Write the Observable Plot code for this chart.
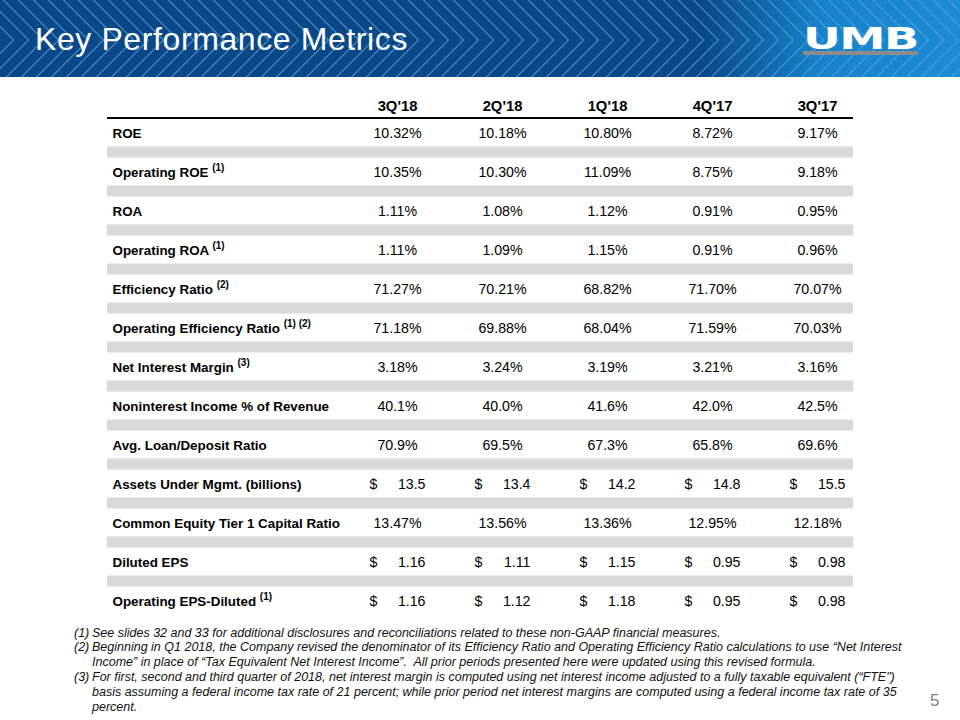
<!DOCTYPE html>
<html><head><meta charset="utf-8">
<script src="https://cdn.jsdelivr.net/npm/d3@7"></script>
<script src="https://cdn.jsdelivr.net/npm/@observablehq/plot@0.6"></script>
<style>
html,body{margin:0;padding:0;background:#fff;}
body{width:960px;height:720px;position:relative;overflow:hidden;font-family:"Liberation Sans",Arial,sans-serif;color:#000;}
#banner{position:absolute;left:0;top:0;width:960px;height:77px;background:#0b4887;overflow:hidden;}
#banner .glow{position:absolute;left:0;top:0;width:960px;height:77px;background:linear-gradient(to right, rgba(24,128,200,0) 0, rgba(24,128,200,0) 700px, rgba(24,134,206,0.95) 820px, rgba(28,140,210,1) 960px);}
#banner .top{position:absolute;left:0;top:0;width:960px;height:40px;background:repeating-linear-gradient(45deg, rgba(90,165,225,0) 0px, rgba(90,165,225,0) 9px, rgba(90,165,225,0.6) 9px, rgba(90,165,225,0.6) 10.6px);}
#banner .bot{position:absolute;left:0;top:40px;width:960px;height:37px;background:repeating-linear-gradient(135deg, rgba(90,165,225,0) 0px, rgba(90,165,225,0) 9px, rgba(90,165,225,0.6) 9px, rgba(90,165,225,0.6) 10.6px);}
#title{position:absolute;left:35px;top:22.9px;font-size:32px;line-height:32px;letter-spacing:0.6px;color:#fff;white-space:nowrap;}
#logo{position:absolute;left:803px;top:21px;width:115px;height:36px;}
#logo .txt{position:absolute;left:0;top:0;font-family:"DejaVu Sans",sans-serif;font-weight:bold;font-size:30px;line-height:35px;color:#fff;transform:scaleX(1.55);transform-origin:0 0;letter-spacing:-1px;white-space:nowrap;}
#logo .bar{position:absolute;left:0;top:30px;width:115px;height:4px;background:#8c8c8c;}
#chart{position:absolute;left:0;top:78px;}
#notes{position:absolute;left:74px;top:625.5px;font-size:12.5px;line-height:14.9px;font-style:italic;color:#111;white-space:nowrap;}
#notes .fn{display:flex;}
#notes .n{width:18px;flex:none;}
#pnum{position:absolute;left:930px;top:691px;font-size:17px;color:#808080;}
</style>
</head><body>
<div id="banner"><div class="glow"></div><div class="top"></div><div class="bot"></div>
<div id="title">Key Performance Metrics</div>
<div id="logo"><span class="txt">UMB</span><div class="bar"></div></div>
</div>
<div id="chart"></div>
<div id="notes">
<div class="fn"><span class="n">(1)</span><span class="t">See slides 32 and 33 for additional disclosures and reconciliations related to these non-GAAP financial measures.</span></div>
<div class="fn"><span class="n">(2)</span><span class="t">Beginning in Q1 2018, the Company revised the denominator of its Efficiency Ratio and Operating Efficiency Ratio calculations to use “Net Interest<br>Income” in place of “Tax Equivalent Net Interest Income”.&nbsp; All prior periods presented here were updated using this revised formula.</span></div>
<div class="fn"><span class="n">(3)</span><span class="t">For first, second and third quarter of 2018, net interest margin is computed using net interest income adjusted to a fully taxable equivalent (“FTE")<br>basis assuming a federal income tax rate of 21 percent; while prior period net interest margins are computed using a federal income tax rate of 35<br>percent.</span></div>
</div>
<div id="pnum">5</div>
<script>
const quarters = ["3Q'18", "2Q'18", "1Q'18", "4Q'17", "3Q'17"];
const metrics = [
  "ROE", "Operating ROE", "ROA", "Operating ROA", "Efficiency Ratio",
  "Operating Efficiency Ratio", "Net Interest Margin", "Noninterest Income % of Revenue",
  "Avg. Loan/Deposit Ratio", "Assets Under Mgmt. (billions)",
  "Common Equity Tier 1 Capital Ratio", "Diluted EPS", "Operating EPS-Diluted"
];
const footnoteRefs = ["", "(1)", "", "(1)", "(2)", "(1) (2)", "(3)", "", "", "", "", "", "(1)"];
const units = ["%", "%", "%", "%", "%", "%", "%", "%", "%", "$", "%", "$", "$"];
const decimals = [2, 2, 2, 2, 2, 2, 2, 1, 1, 1, 2, 2, 2];

const roe = [10.32, 10.18, 10.80, 8.72, 9.17];
const operatingRoe = [10.35, 10.30, 11.09, 8.75, 9.18];
const roa = [1.11, 1.08, 1.12, 0.91, 0.95];
const operatingRoa = [1.11, 1.09, 1.15, 0.91, 0.96];
const efficiencyRatio = [71.27, 70.21, 68.82, 71.70, 70.07];
const operatingEfficiencyRatio = [71.18, 69.88, 68.04, 71.59, 70.03];
const netInterestMargin = [3.18, 3.24, 3.19, 3.21, 3.16];
const noninterestIncomePct = [40.1, 40.0, 41.6, 42.0, 42.5];
const loanDepositRatio = [70.9, 69.5, 67.3, 65.8, 69.6];
const assetsUnderMgmt = [13.5, 13.4, 14.2, 14.8, 15.5];
const cet1Ratio = [13.47, 13.56, 13.36, 12.95, 12.18];
const dilutedEps = [1.16, 1.11, 1.15, 0.95, 0.98];
const operatingEps = [1.16, 1.12, 1.18, 0.95, 0.98];

const values = [roe, operatingRoe, roa, operatingRoa, efficiencyRatio, operatingEfficiencyRatio,
  netInterestMargin, noninterestIncomePct, loanDepositRatio, assetsUnderMgmt, cet1Ratio,
  dilutedEps, operatingEps];

const cells = metrics.flatMap((m, i) => quarters.map((q, j) => ({
  metric: m, quarter: q, value: values[i][j], unit: units[i], digits: decimals[i]
})));
const pctCells = cells.filter(d => d.unit === "%");
const usdCells = cells.filter(d => d.unit === "$");

const chart = Plot.plot({
  width: 960,
  height: 545,
  marginLeft: 107,
  marginRight: 107,
  marginTop: 20,
  marginBottom: 10,
  style: {fontFamily: "'Liberation Sans', Arial, sans-serif", fontSize: "14px", color: "#000", background: "transparent", overflow: "visible"},
  x: {type: "point", domain: quarters, range: [396, 817], padding: 0, axis: null},
  y: {type: "point", domain: metrics, range: [52, 526], padding: 0, axis: null},
  marks: [
    Plot.ruleY(metrics.slice(0, -1), {y: d => d, dy: 18.5, stroke: "#d9d9d9", strokeWidth: 11}),
    Plot.ruleY([metrics[0]], {y: d => d, dy: -15.5, stroke: "#000", strokeWidth: 2}),
    Plot.text(quarters, {x: d => d, y: () => metrics[0], dy: -27, fontWeight: "bold", fontSize: 14.8, text: d => d}),
    Plot.text(metrics, {y: d => d, frameAnchor: "left", dx: 5, textAnchor: "start", fontWeight: "bold", fontSize: 13.4, text: d => d}),
    Plot.text(pctCells, {x: "quarter", y: "metric", fontSize: 14.2, text: d => d.value.toFixed(d.digits) + "%"}),
    Plot.text(usdCells, {x: "quarter", y: "metric", fontSize: 14.2, text: () => "$", dx: -28, textAnchor: "start"}),
    Plot.text(usdCells, {x: "quarter", y: "metric", fontSize: 14.2, text: d => d.value.toFixed(d.digits), dx: 28, textAnchor: "end"})
  ]
});
document.getElementById("chart").appendChild(chart);

// add superscript footnote references after the metric labels
chart.querySelectorAll("text").forEach(el => {
  const i = metrics.indexOf(el.textContent);
  if (i >= 0 && footnoteRefs[i]) {
    const sp = document.createElementNS("http://www.w3.org/2000/svg", "tspan");
    sp.textContent = " ";
    const sup = document.createElementNS("http://www.w3.org/2000/svg", "tspan");
    sup.setAttribute("font-size", "10px");
    sup.setAttribute("dy", "-6");
    sup.textContent = footnoteRefs[i];
    el.appendChild(sp);
    el.appendChild(sup);
  }
});
</script>
</body></html>
